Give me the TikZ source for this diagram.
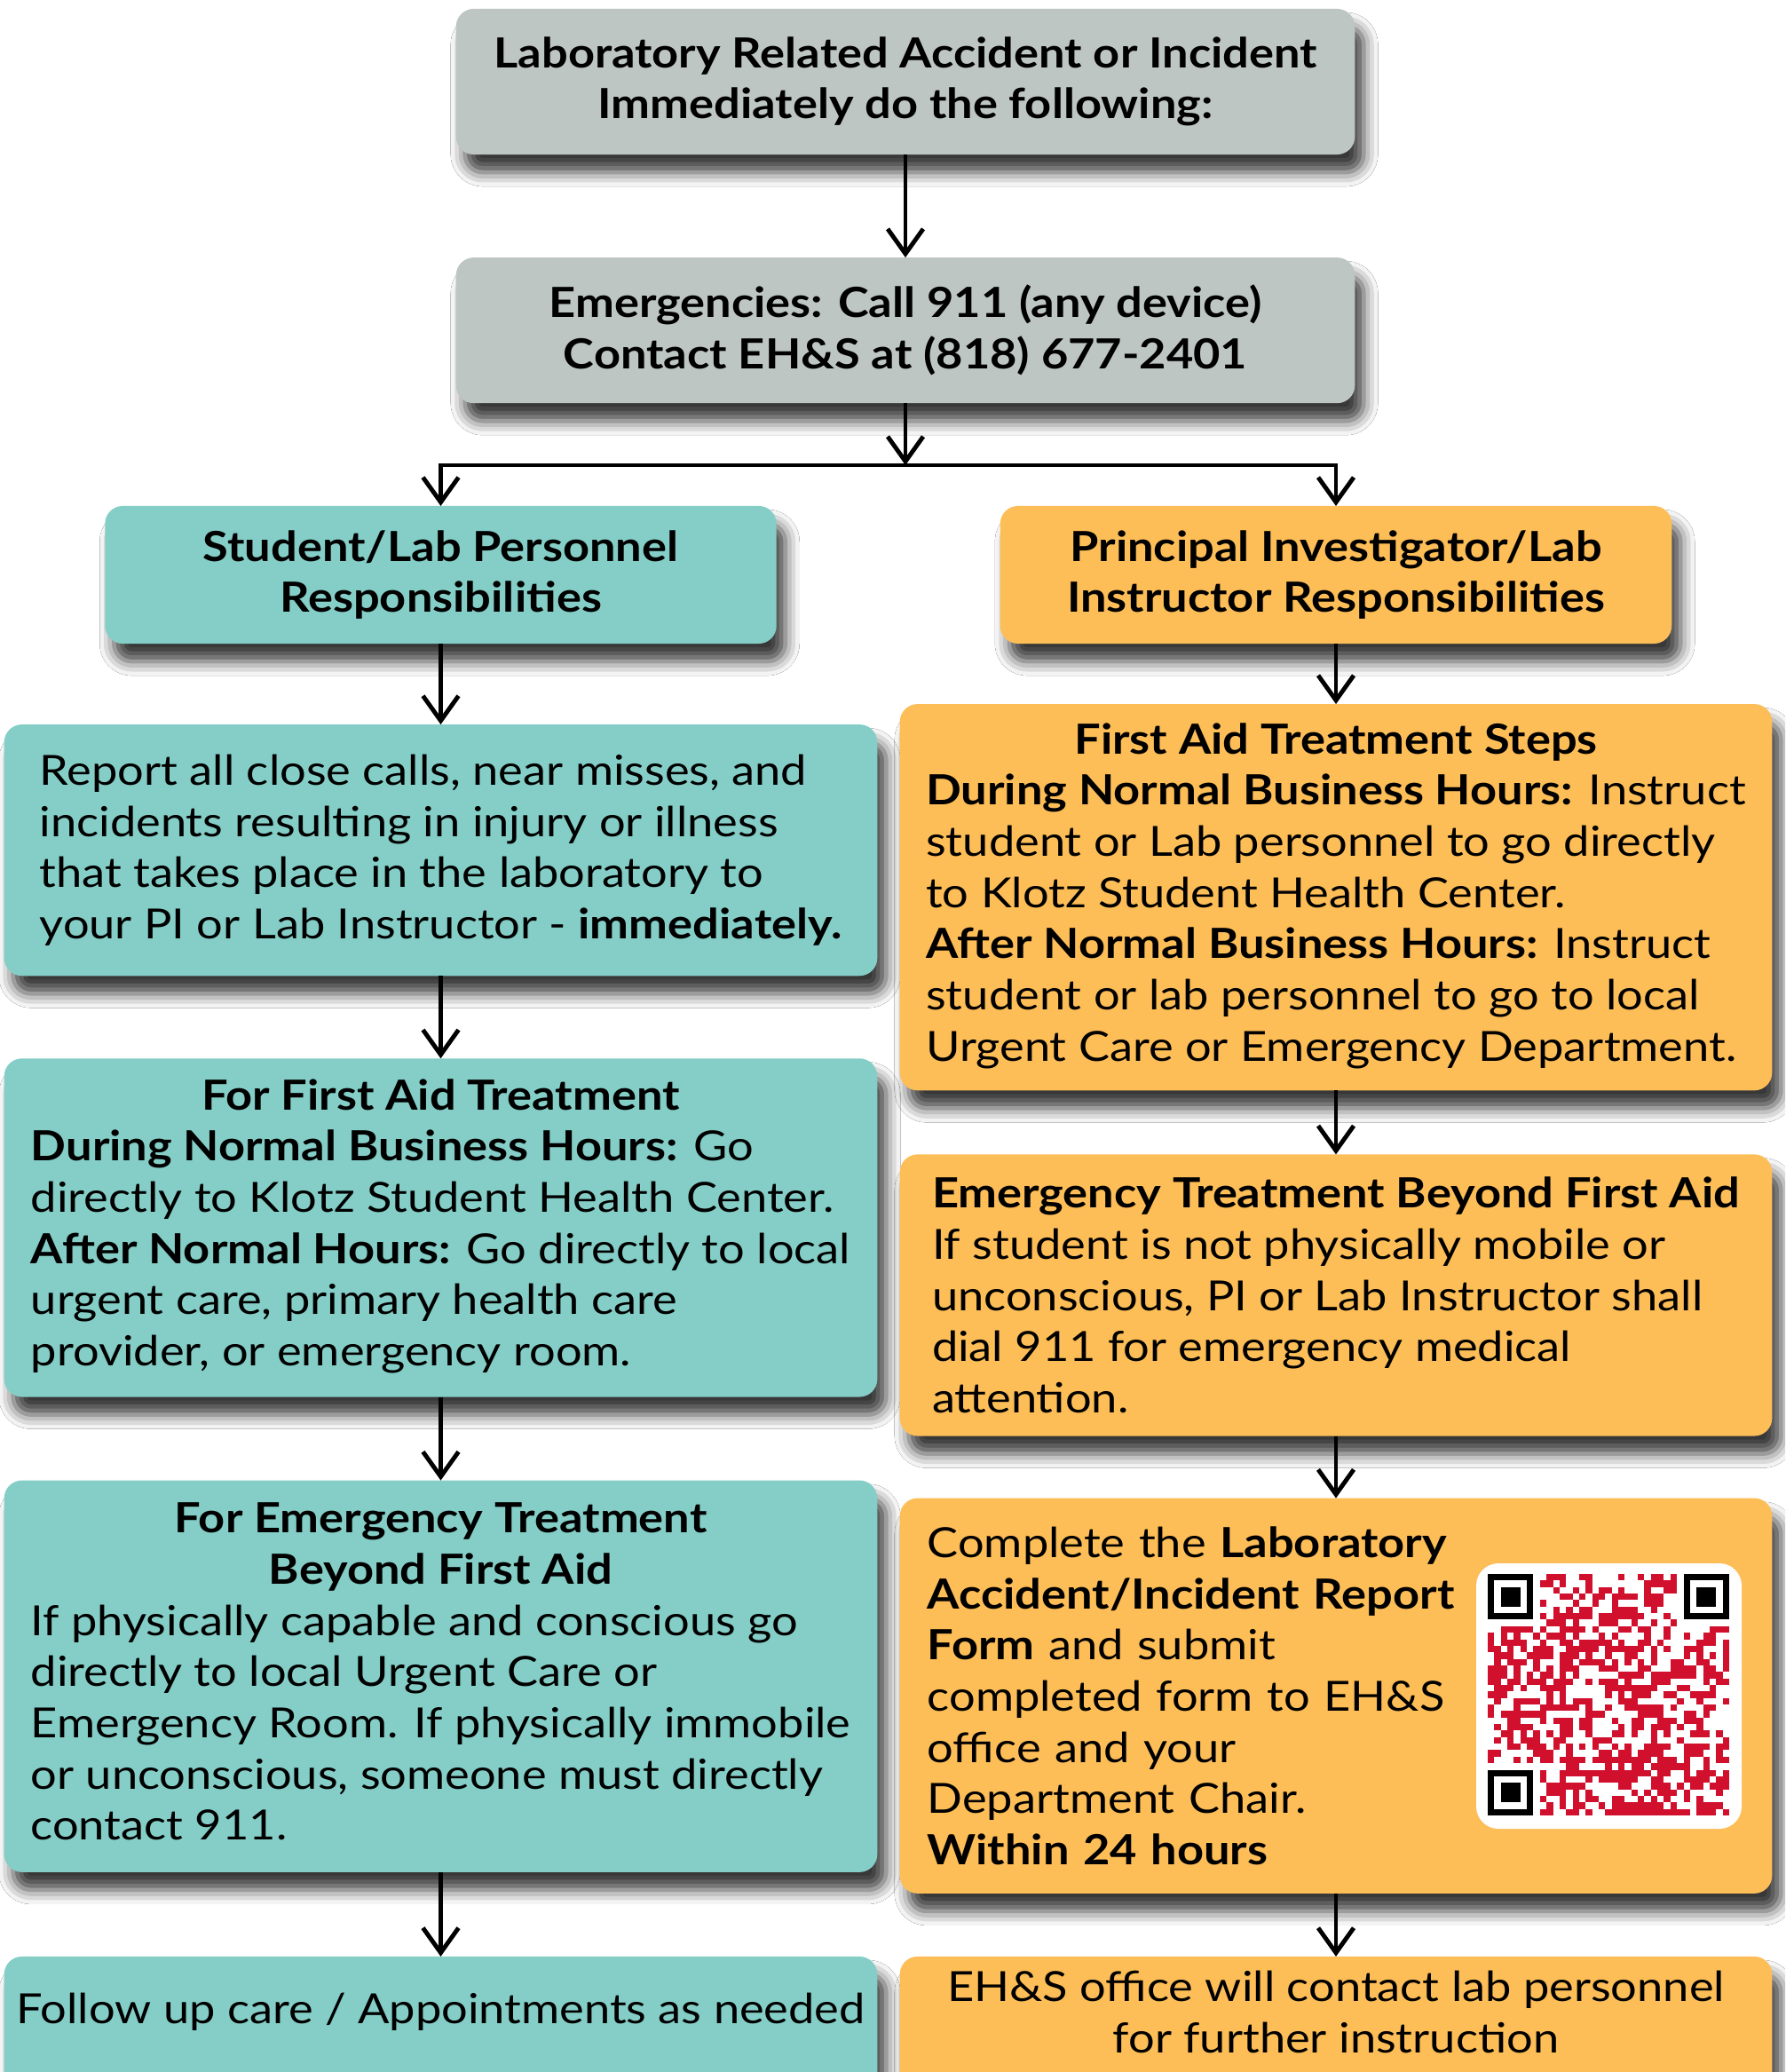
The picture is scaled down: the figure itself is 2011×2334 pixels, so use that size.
\documentclass[tikz,border=0pt]{standalone}
\usepackage{fontspec}
\setmainfont{Lato}[FakeStretch=1.12]
\usetikzlibrary{positioning,arrows.meta,shadows.blur}

\definecolor{boxgray}{RGB}{190,198,195}
\definecolor{boxteal}{RGB}{132,206,199}
\definecolor{boxorange}{RGB}{253,189,87}
\definecolor{qrred}{RGB}{209,16,46}

\tikzset{
  box/.style={rounded corners=0.2cm, inner sep=0pt, outer sep=0pt,
    blur shadow={shadow xshift=0.1cm, shadow yshift=-0.2cm, shadow blur radius=0.16cm, shadow opacity=78},
    font=\fontsize{13.3}{16.4}\selectfont},
  graybox/.style={box, fill=boxgray, align=center, minimum width=10.12cm, minimum height=1.64cm,
    font=\fontsize{13.3}{16.4}\selectfont\bfseries},
  tealbox/.style={box, fill=boxteal, minimum width=9.83cm},
  orangebox/.style={box, fill=boxorange, minimum width=9.82cm},
  headbox/.style={align=center, minimum width=7.56cm, minimum height=1.55cm,
    font=\fontsize{13.3}{16.4}\selectfont\bfseries},
  endbox/.style={align=center, anchor=north, text depth=1.6cm}
}

\begin{document}
\begin{tikzpicture}[x=0.01cm, y=-0.01cm, >={Straight Barb[length=2.8mm,width=4mm]}, line width=1.4pt, node distance=0.93cm]
\useasboundingbox (0,0) rectangle (2011,2334);
\clip (0,0) rectangle (2011,2334);
\fill[white] (0,0) rectangle (2011,2334);

% top of the chart
\node[graybox] (accident) at (1020,92) {Laboratory Related Accident or Incident\\Immediately do the following:};
\node[graybox,below=1.16cm of accident] (emergency) {Emergencies: Call 911 (any device)\\Contact EH\&S at (818) 677-2401};
\coordinate (split) at (1020,524);

% left column
\node[tealbox,headbox] (student) at (496.5,647.5) {Student/Lab Personnel\\Responsibilities};
\node[tealbox,align=left,minimum height=2.83cm,below=0.91cm of student] (report) {Report all close calls, near misses, and\\incidents resulting in injury or illness\\that takes place in the laboratory to\\your PI or Lab Instructor - \textbf{immediately.}};
\node[tealbox,minimum height=3.81cm,below=of report] (firstaid) {\begin{tabular}{@{}l@{}}
\multicolumn{1}{@{}c@{}}{\textbf{For First Aid Treatment}}\\
\textbf{During Normal Business Hours:} Go\\
directly to Klotz Student Health Center.\\
\textbf{After Normal Hours:} Go directly to local\\
urgent care, primary health care\\
provider, or emergency room.\end{tabular}};
\node[tealbox,minimum height=4.41cm,below=0.94cm of firstaid] (emtreat) {\begin{tabular}{@{}l@{}}
\multicolumn{1}{@{}c@{}}{\textbf{For Emergency Treatment}}\\
\multicolumn{1}{@{}c@{}}{\textbf{Beyond First Aid}}\\
If physically capable and conscious go\\
directly to local Urgent Care or\\
Emergency Room. If physically immobile\\
or unconscious, someone must directly\\
contact 911.\end{tabular}};
\node[tealbox,endbox,inner ysep=0.41cm,below=0.95cm of emtreat] (followup) {Follow up care / Appointments as needed};

% right column
\node[orangebox,headbox] (pi) at (1505,647.5) {Principal Investigator/Lab\\Instructor Responsibilities};
\node[orangebox,minimum height=4.35cm,below=0.68cm of pi] (steps) {\begin{tabular}{@{}l@{}}
\multicolumn{1}{@{}c@{}}{\textbf{First Aid Treatment Steps}}\\
\textbf{During Normal Business Hours:} Instruct\\
student or Lab personnel to go directly\\
to Klotz Student Health Center.\\
\textbf{After Normal Business Hours:} Instruct\\
student or lab personnel to go to local\\
Urgent Care or Emergency Department.\end{tabular}};
\node[orangebox,align=left,minimum height=3.17cm,below=0.72cm of steps] (beyond) {\textbf{Emergency Treatment Beyond First Aid}\\If student is not physically mobile or\\unconscious, PI or Lab Instructor shall\\dial 911 for emergency medical\\attention.};
\node[orangebox,align=left,text width=9.2cm,minimum height=4.45cm,below=0.7cm of beyond] (form) {Complete the \textbf{Laboratory}\\\textbf{Accident/Incident Report}\\\textbf{Form} and submit\\completed form to EH\&S\\office and your\\Department Chair.\\\textbf{Within 24 hours}};
\node[orangebox,endbox,inner ysep=0.16cm,below=0.71cm of form] (ehs) {EH\&S office will contact lab personnel\\for further instruction};

% QR code
\fill[white,rounded corners=0.25cm] (1663,1761) rectangle (1962,2060);
\pgfmathsetseed{4711}
\foreach \i in {0,...,36}{
  \foreach \j in {0,...,36}{
    \pgfmathrandominteger{\qrbit}{0}{1}
    \pgfmathtruncatemacro{\infinder}{((\i<8)&&(\j<8))||((\i>28)&&(\j<8))||((\i<8)&&(\j>28))}
    \ifnum\qrbit=1 \ifnum\infinder=0
      \fill[qrred] (1676+\i*7.35,1773+\j*7.35) rectangle ++(7.35,7.35);
    \fi\fi
  }
}
\foreach \fx/\fy in {0/0,30/0,0/30}{
  \fill[black] (1676+\fx*7.35,1773+\fy*7.35) rectangle ++(51.45,51.45);
  \fill[white] (1683.35+\fx*7.35,1780.35+\fy*7.35) rectangle ++(36.75,36.75);
  \fill[black] (1690.7+\fx*7.35,1787.7+\fy*7.35) rectangle ++(22.05,22.05);
}

% connectors
\draw[->] (accident) -- (emergency);
\draw[->] (emergency) -- (split);
\draw[->] (split) -| (student.north);
\draw[->] (split) -| (pi.north);
\draw[->] (student) -- (report);
\draw[->] (report) -- (firstaid);
\draw[->] (firstaid) -- (emtreat);
\draw[->] (emtreat) -- (followup);
\draw[->] (pi) -- (steps);
\draw[->] (steps) -- (beyond);
\draw[->] (beyond) -- (form);
\draw[->] (form) -- (ehs);
\end{tikzpicture}
\end{document}
